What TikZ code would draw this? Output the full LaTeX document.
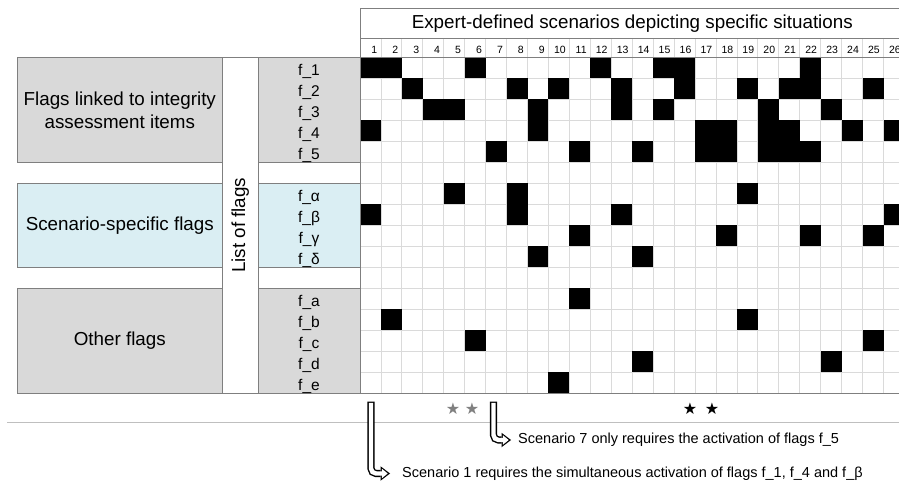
\documentclass[tikz,border=0pt]{standalone}
\usepackage{fontspec}
\setmainfont{Liberation Sans}
\newfontfamily\starfont{DejaVu Sans}
\usetikzlibrary{arrows.meta}
\definecolor{boxgray}{HTML}{D9D9D9}
\definecolor{boxblue}{HTML}{DAEEF3}
\definecolor{edgegray}{HTML}{7F7F7F}
\definecolor{cellgray}{HTML}{DADADA}
\definecolor{rulegray}{HTML}{BFBFBF}

\begin{document}
\begin{tikzpicture}[x=1pt,y=-1pt,
	groupbox/.style={draw=edgegray,line width=0.8pt,minimum width=205pt,inner sep=0pt,align=center,font=\fontsize{18.8}{23}\selectfont},
	flag/.style={font=\fontsize{15.5}{16}\selectfont,inner sep=0pt,anchor=base},
	colnum/.style={font=\fontsize{10.5}{11}\selectfont,inner sep=0pt,anchor=base east},
	note/.style={font=\fontsize{14.5}{16}\selectfont,inner sep=0pt,anchor=west},
	starmark/.style={font=\starfont\fontsize{16}{16}\selectfont,inner sep=0pt},
	arrowout/.style={line width=7.2pt,rounded corners=5pt,-{Triangle[length=9.5pt,width=14.5pt,line width=0pt]}},
	arrowin/.style={white,line width=4.4pt,rounded corners=5pt,shorten <=1.4pt,shorten >=2.3pt,-{Triangle[length=5.8pt,width=9.5pt,line width=0pt]}}
	]
	\useasboundingbox (0,0) rectangle (899,489);
	\clip (0,0) rectangle (899,489);

	\node[groupbox,fill=boxgray,minimum height=105pt] (grpA) at (119.8,109.8) {Flags linked to integrity\\assessment items};
	\node[groupbox,fill=boxblue,minimum height=84pt] (grpB) at (119.8,225.3) {Scenario-specific flags};
	\node[groupbox,fill=boxgray,minimum height=105pt] (grpC) at (119.8,340.8) {Other flags};
	\node[draw=edgegray,fill=white,line width=0.8pt,rotate=90,minimum width=336pt,minimum height=36pt,inner sep=0pt,
		font=\fontsize{18.8}{20}\selectfont] (listcol) at (240.3,225.3) {List of flags};

	\filldraw[draw=edgegray,line width=0.8pt,fill=boxgray] (258.3,57.3) rectangle (360,162.3);
	\filldraw[draw=edgegray,line width=0.8pt,fill=boxblue] (258.3,183.3) rectangle (360,267.3);
	\filldraw[draw=edgegray,line width=0.8pt,fill=boxgray] (258.3,288.3) rectangle (360,393.3);
	\foreach \r/\f in {1/1,2/2,3/3,4/4,5/5,7/α,8/β,9/γ,10/δ,12/a,13/b,14/c,15/d,16/e}
		\node[flag] (f\r) at (309,{57.3+\r*21-3}) {f\_\f};

	\node[font=\fontsize{18.8}{20}\selectfont,inner sep=0pt] (title) at (632.3,23.3) {Expert-defined scenarios depicting specific situations};
	\foreach \c in {0,...,26}
		\draw[cellgray,line width=0.8pt] ({360+\c*20.94},38.3) -- ({360+\c*20.94},393.3);
	\foreach \r in {1,...,15}
		\draw[cellgray,line width=0.8pt] (360,{57.3+\r*21}) -- (904.5,{57.3+\r*21});
	\foreach \c in {1,...,26}
		\node[colnum] (n\c) at ({360+\c*20.94-3.5},53.3) {\c};

	\foreach \r/\cols in {1/{1,2,6,12,15,16,22},2/{3,8,10,13,16,19,21,22,25},3/{4,5,9,13,15,20,23},
		4/{1,9,17,18,20,21,24,26},5/{7,11,14,17,18,20,21,22},7/{5,8,19},8/{1,8,13,26},9/{11,18,22,25},
		10/{9,14},12/{11},13/{2,19},14/{6,25},15/{14,23},16/{10}}
		\foreach \c in \cols
			\fill ({360+(\c-1)*20.94},{57.3+(\r-1)*21}) rectangle ++(20.94,21);

	\draw[edgegray,line width=0.8pt] (904.5,8.3) -- (360,8.3) -- (360,393.3) -- (904.5,393.3);
	\draw[edgegray,line width=0.8pt] (360,38.3) -- (904.5,38.3) (360,57.3) -- (904.5,57.3);

	\draw[rulegray,line width=0.8pt] (7,422.8) -- (899,422.8);

	\node[starmark,gray] (s1) at (453,409) {★};
	\node[starmark,gray] (s2) at (472,409) {★};
	\node[starmark] (s3) at (690,409) {★};
	\node[starmark] (s4) at (712,409) {★};

	\node[note] (note7) at (518,440) {Scenario 7 only requires the activation of flags f\_5};
	\node[note] (note1) at (402,473.5) {Scenario 1 requires the simultaneous activation of flags f\_1, f\_4 and f\_β};
	\coordinate (top1) at (371,401.5);
	\coordinate (top7) at (493.5,401.5);
	\draw[arrowout] (top1) |- ([xshift=-12pt]note1.west);
	\draw[arrowin] (top1) |- ([xshift=-12pt]note1.west);
	\draw[arrowout] (top7) |- ([xshift=-7pt]note7.west);
	\draw[arrowin] (top7) |- ([xshift=-7pt]note7.west);
\end{tikzpicture}
\end{document}
